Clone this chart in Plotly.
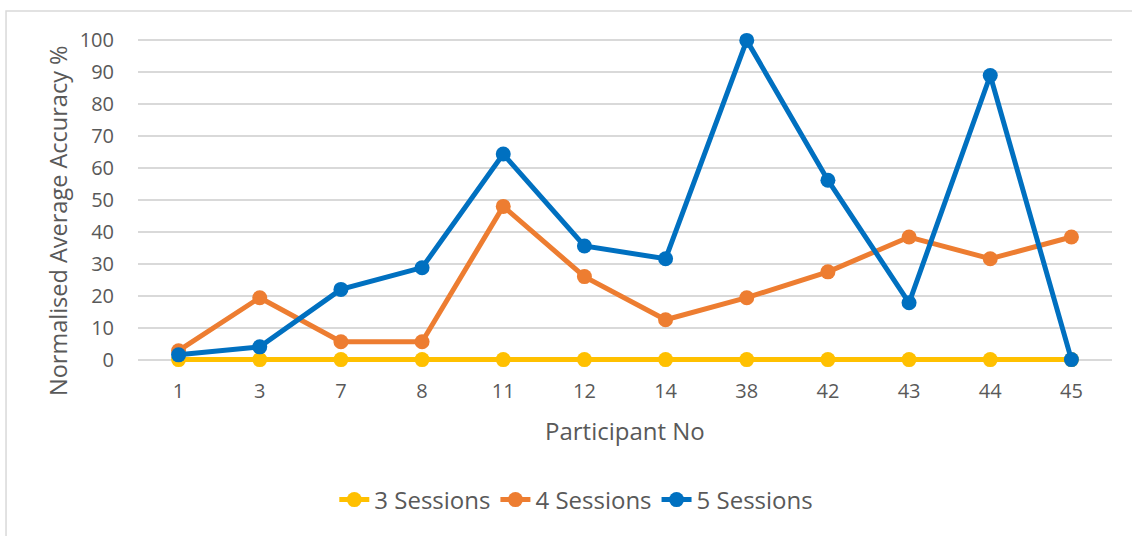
import plotly.graph_objects as go

participants = ["1", "3", "7", "8", "11", "12", "14", "38", "42", "43", "44", "45"]
sessions_3 = [0, 0, 0, 0, 0, 0, 0, 0, 0, 0, 0, 0]
sessions_4 = [2.8, 19.4, 5.6, 5.6, 48, 26, 12.5, 19.4, 27.5, 38.4, 31.6, 38.4]
sessions_5 = [1.5, 4, 22, 28.8, 64.4, 35.6, 31.6, 100, 56.2, 17.8, 89, 0]

series = [
    ("3 Sessions", sessions_3, "#FFC000"),
    ("4 Sessions", sessions_4, "#ED7D31"),
    ("5 Sessions", sessions_5, "#0070C0"),
]

font = "Open Sans"
grey = "#595959"

fig = go.Figure()
for name, vals, color in series:
    fig.add_trace(go.Scatter(
        x=participants, y=vals, name=name, mode="lines+markers",
        line=dict(color=color, width=5),
        marker=dict(color=color, size=15),
        cliponaxis=False,
    ))

# y range padded a little so lines at 0 and 100 are not clipped
fig.update_layout(
    width=1132, height=536,
    margin=dict(l=138, r=20, t=34, b=170, autoexpand=False),
    paper_bgcolor="white", plot_bgcolor="white",
    font=dict(family=font, color=grey, size=20),
    showlegend=True,
    legend=dict(
        orientation="h", x=0.45, xanchor="center", y=-0.4036, yanchor="middle",
        font=dict(size=24, color=grey), itemwidth=30, tracegroupgap=0,
    ),
    xaxis=dict(
        type="category", range=[-0.5, 11.5], showgrid=False, zeroline=False,
        showline=False, ticks="", tickfont=dict(size=20, color=grey), automargin=False,
        ticklabelstandoff=11,
    ),
    yaxis=dict(
        range=[-2, 102], tick0=0, dtick=10, showgrid=True, gridcolor="#D9D9D9", gridwidth=1.5,
        zeroline=False, showline=False, ticks="", ticklabelstandoff=23,
        tickfont=dict(size=20, color=grey), automargin=False,
    ),
    annotations=[
        dict(text="Participant No", xref="paper", yref="paper", x=0.5, y=-0.1928,
             xanchor="center", yanchor="middle", showarrow=False,
             font=dict(size=24, color=grey)),
        dict(text="Normalised Average Accuracy %", xref="paper", yref="paper",
             x=-0.0821, y=0.4367, xanchor="center", yanchor="middle", textangle=-90,
             showarrow=False, font=dict(size=23.5, color=grey)),
    ],
)

# outer chart border
fig.add_shape(
    type="rect", xref="paper", yref="paper",
    x0=-0.1355, x1=1.03, y0=-0.6, y1=1.069,
    line=dict(color="#D9D9D9", width=1.5), fillcolor="rgba(0,0,0,0)", layer="below",
)

fig.write_html("out.html", config={"displayModeBar": False},
               post_script="document.body.style.margin='0';")
